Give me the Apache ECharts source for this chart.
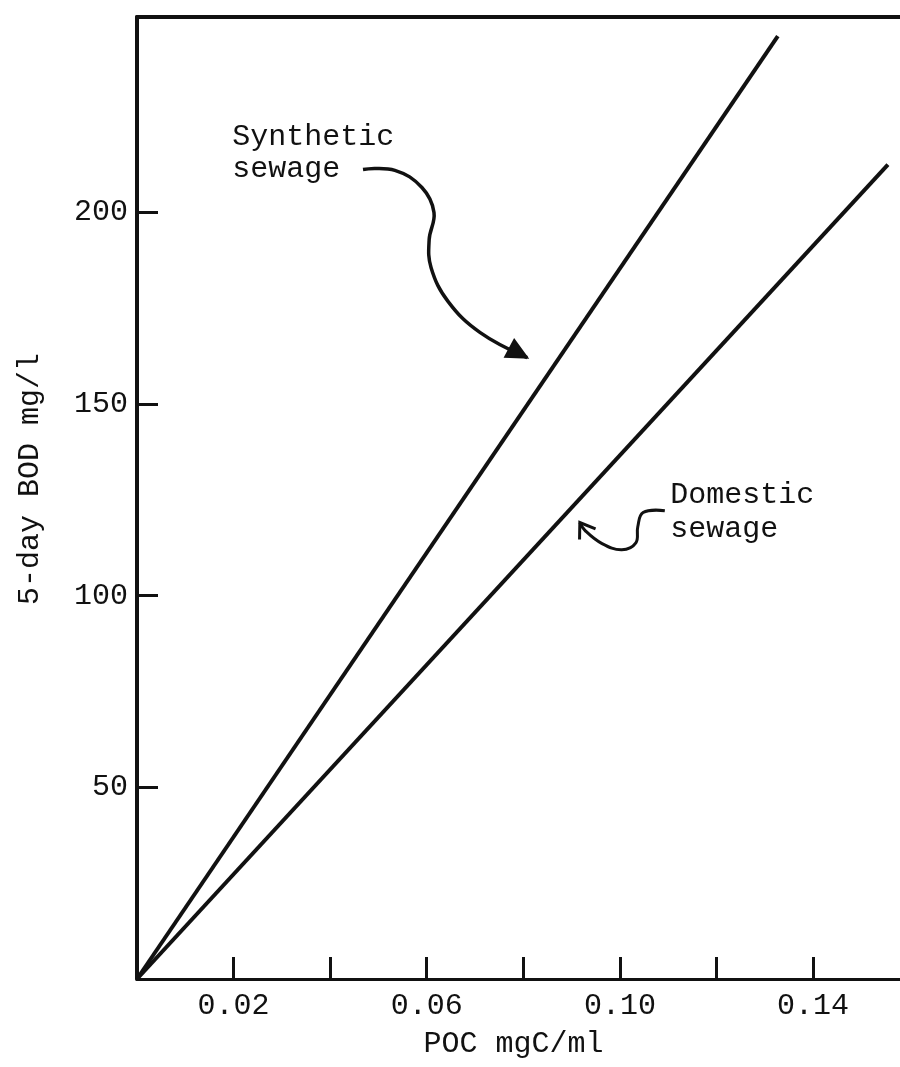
<!DOCTYPE html>
<html><head><meta charset="utf-8">
<script src="https://cdn.jsdelivr.net/npm/echarts@6/dist/echarts.min.js"></script>
<style>html,body{margin:0;padding:0;background:#fff}#c{width:900px;height:1067px}</style>
</head><body><div id="c"></div>
<script>
// ---- data ----
const xTickValues = [0.02, 0.04, 0.06, 0.08, 0.10, 0.12, 0.14];
const xTickLabels = ['0.02', '0.06', '0.10', '0.14'];
const yTickLabels = ['50', '100', '150', '200'];
const yTickValues = [50, 100, 150, 200];
const synthetic = [[0, 0], [0.1327, 246]];
const domestic = [[0, 0], [0.1555, 212.5]];
// annotation arrows (in data units)
const synthArrow = [[0.0468, 211.2], [0.0534, 211.0], [0.0590, 206.5], [0.0615, 200.0], [0.0605, 192.9], [0.0609, 185.6], [0.0644, 176.8], [0.0710, 168.7], [0.0808, 162.1]];
const domArrow = [[0.1093, 122.2], [0.1048, 121.7], [0.1037, 118.0], [0.1033, 113.8], [0.1004, 112.0], [0.0963, 113.6], [0.0928, 117.0], [0.0917, 119.1]];
const synthLabel = { text: 'Synthetic\nsewage', at: [0.0197, 223.8] };
const domLabel = { text: 'Domestic\nsewage', at: [0.1104, 130.8] };

const FONT = 'Liberation Mono';
const chart = echarts.init(document.getElementById('c'), null, { renderer: 'canvas' });
const black = '#111';

chart.setOption({
  backgroundColor: '#fff',
  animation: false,
  grid: { left: 137, right: 0, top: 17, bottom: 88 },
  xAxis: [{
    type: 'value', min: 0, max: 0.158, interval: 0.02, position: 'bottom',
    name: 'POC mgC/ml', nameLocation: 'middle', nameGap: 50,
    nameTextStyle: { fontFamily: FONT, fontSize: 30, color: black, padding: [0, 10, 0, 0] },
    axisLine: { show: true, onZero: false, lineStyle: { color: black, width: 3 } },
    axisTick: { show: true, inside: true, length: 22, customValues: xTickValues, lineStyle: { color: black, width: 3 } },
    axisLabel: {
      margin: 12, fontFamily: FONT, fontSize: 30, color: black,
      customValues: xTickLabels.map(Number),
      formatter: v => { const s = v.toFixed(2); return xTickLabels.includes(s) ? s : ''; }
    },
    splitLine: { show: false }
  }, {
    type: 'value', min: 0, max: 0.158, position: 'top',
    axisLine: { show: true, onZero: false, lineStyle: { color: black, width: 4 } },
    axisTick: { show: false }, axisLabel: { show: false }, splitLine: { show: false }
  }],
  yAxis: {
    type: 'value', min: 0, max: 251, interval: 50,
    name: '5-day BOD mg/l', nameLocation: 'middle', nameGap: 92, nameRotate: 90,
    nameTextStyle: { fontFamily: FONT, fontSize: 30, color: black, padding: [0, 0, 0, 38] },
    axisLine: { show: true, lineStyle: { color: black, width: 4 } },
    axisTick: { show: true, inside: true, length: 21, customValues: yTickValues, lineStyle: { color: black, width: 3 } },
    axisLabel: {
      margin: 9, fontFamily: FONT, fontSize: 30, color: black,
      customValues: yTickValues,
      formatter: v => yTickLabels.includes(String(v)) ? String(v) : ''
    },
    splitLine: { show: false }
  },
  series: [
    { name: 'Synthetic sewage', type: 'line', data: synthetic, symbol: 'none',
      lineStyle: { color: black, width: 4 } },
    { name: 'Domestic sewage', type: 'line', data: domestic, symbol: 'none',
      lineStyle: { color: black, width: 4 } }
  ]
});

function px(p) { return chart.convertToPixel({ gridIndex: 0 }, p); }
function head(pts, len, spread, filled) {
  const t = pts[pts.length - 1], b = pts[pts.length - 2];
  const a = Math.atan2(b[1] - t[1], b[0] - t[0]);
  const p1 = [t[0] + len * Math.cos(a + spread), t[1] + len * Math.sin(a + spread)];
  const p2 = [t[0] + len * Math.cos(a - spread), t[1] + len * Math.sin(a - spread)];
  if (filled) return { type: 'polygon', shape: { points: [p1, t, p2] }, style: { fill: black, stroke: black, lineWidth: 2 } };
  return { type: 'polyline', shape: { points: [p1, t, p2] }, style: { fill: null, stroke: black, lineWidth: 3 } };
}
const sPts = synthArrow.map(px), dPts = domArrow.map(px);
const sl = px(synthLabel.at), dl = px(domLabel.at);
chart.setOption({
  graphic: [
    { type: 'polyline', shape: { points: sPts, smooth: 0.4 }, style: { fill: null, stroke: black, lineWidth: 3.5 } },
    head(sPts, 22, 0.45, true),
    { type: 'polyline', shape: { points: dPts, smooth: 0.4 }, style: { fill: null, stroke: black, lineWidth: 3 } },
    head(dPts, 17, 0.6, false),
    { type: 'text', x: sl[0], y: sl[1], style: { text: synthLabel.text, font: '30px "' + FONT + '"', fill: black, lineHeight: 32 } },
    { type: 'text', x: dl[0], y: dl[1], style: { text: domLabel.text, font: '30px "' + FONT + '"', fill: black, lineHeight: 34 } }
  ]
});
</script></body></html>
